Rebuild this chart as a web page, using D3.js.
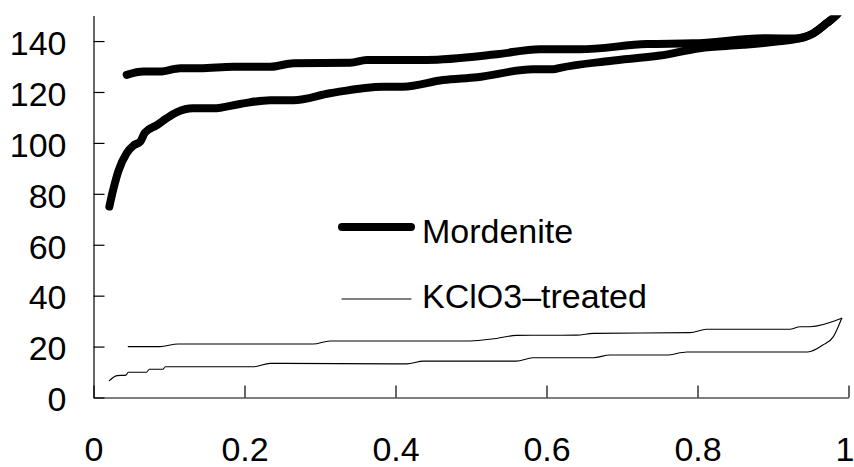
<!DOCTYPE html>
<html>
<head>
<meta charset="utf-8">
<script src="https://cdn.jsdelivr.net/npm/d3@7"></script>
<style>
  body { margin: 0; background: #fff; }
  svg { display: block; }
  .axis text { font-family: "Liberation Sans", Arial, sans-serif; font-size: 34px; fill: #000; }
  .axis path, .axis line { stroke: #000; stroke-width: 1.2; }
  .legend text { font-family: "Liberation Sans", Arial, sans-serif; font-size: 34px; fill: #000; }
</style>
</head>
<body>
<svg id="chart"></svg>
<script>
// relative pressure P/P0 vs adsorbed volume
const mordeniteAds = [
  [0.021, 75], [0.026, 81.5], [0.033, 89], [0.044, 96], [0.053, 99], [0.062, 100.5],
  [0.068, 104], [0.084, 107], [0.097, 109.7], [0.110, 112], [0.132, 113.6], [0.159, 113.6],
  [0.194, 115.3], [0.234, 116.8], [0.265, 116.8], [0.313, 119.5], [0.384, 122.1], [0.410, 122.1],
  [0.463, 124.7], [0.508, 125.8], [0.582, 128.9], [0.609, 128.9], [0.618, 129.5], [0.684, 132.2],
  [0.750, 134.3], [0.803, 137.2], [0.860, 138.5], [0.905, 139.8], [0.930, 140.8], [0.953, 143],
  [0.971, 147], [0.984, 150.2], [0.992, 153],
];
const mordeniteDes = [
  [0.044, 126.7], [0.066, 128], [0.088, 128], [0.115, 129.3], [0.141, 129.3], [0.185, 129.9],
  [0.234, 129.9], [0.265, 131.3], [0.340, 131.5], [0.362, 132.6], [0.441, 132.6], [0.534, 134.8],
  [0.591, 136.8], [0.644, 136.8], [0.733, 138.8], [0.794, 139.1], [0.892, 141.1], [0.931, 141],
  [0.953, 143], [0.971, 147], [0.984, 150.2], [0.992, 153],
];
const kclo3Ads = [
  [0.021, 6.6], [0.031, 8.6], [0.043, 8.8], [0.046, 9.9], [0.070, 9.9], [0.074, 11.1],
  [0.092, 11.1], [0.095, 12.1], [0.212, 12.1], [0.234, 13.4], [0.415, 13.2], [0.437, 14.3],
  [0.560, 14.3], [0.582, 15.6], [0.662, 15.6], [0.684, 16.7], [0.759, 16.7], [0.786, 17.9],
  [0.946, 17.9], [0.966, 20.6], [0.980, 23.9], [0.991, 31.1],
];
const kclo3Des = [
  [0.046, 20], [0.088, 20], [0.112, 21], [0.291, 21], [0.313, 22.2], [0.490, 22.2],
  [0.534, 23.2], [0.560, 24.4], [0.640, 24.5], [0.662, 25.2], [0.790, 25.5], [0.812, 26.8],
  [0.922, 26.8], [0.936, 27.8], [0.949, 27.8], [0.991, 31.1],
];
const xTicks = [0, 0.2, 0.4, 0.6, 0.8, 1];
const yTicks = [0, 20, 40, 60, 80, 100, 120, 140];
const legendLabels = ['Mordenite', 'KClO3\u2013treated'];

const width = 854;
const height = 467;
const margin = { top: 15.6, right: 5.5, bottom: 69.5, left: 93.5 };
const innerW = width - margin.left - margin.right;
const innerH = height - margin.top - margin.bottom;

const svg = d3.select('#chart').attr('width', width).attr('height', height);
const g = svg.append('g').attr('transform', `translate(${margin.left},${margin.top})`);

const x = d3.scaleLinear().domain([0, 1]).range([0, innerW]);
const y = d3.scaleLinear().domain([0, 150]).range([innerH, 0]);

// axes with inward ticks
g.append('g')
  .attr('class', 'axis x-axis')
  .attr('transform', `translate(0,${innerH})`)
  .call(d3.axisBottom(x).tickValues(xTicks).tickFormat(d3.format('~g'))
    .tickSizeInner(-12).tickSizeOuter(0).tickPadding(39))
  // last label sits on the page edge, nudge it in a little
  .call((a) => a.selectAll('.tick text').filter((d) => d === 1).attr('dx', -4));

g.append('g')
  .attr('class', 'axis y-axis')
  .call(d3.axisLeft(y).tickValues(yTicks).tickSizeInner(-11).tickSizeOuter(0).tickPadding(27))
  .call((a) => a.selectAll('text').attr('dy', '0.39em'));

g.selectAll('.axis .domain').attr('stroke', '#000');

g.append('clipPath').attr('id', 'plot-clip')
  .append('rect').attr('x', -10).attr('y', 0).attr('width', innerW + 20).attr('height', innerH + 10);

const line = d3.line()
  .x((d) => x(d[0]))
  .y((d) => y(d[1]))
  .curve(d3.curveMonotoneX);

const series = [
  { data: mordeniteAds, w: 8 },
  { data: mordeniteDes, w: 8 },
  { data: kclo3Ads, w: 1.1 },
  { data: kclo3Des, w: 1.1 },
];

g.append('g').attr('clip-path', 'url(#plot-clip)')
  .selectAll('path')
  .data(series)
  .join('path')
  .attr('d', (d) => line(d.data))
  .attr('fill', 'none')
  .attr('stroke', '#000')
  .attr('stroke-width', (d) => d.w)
  .attr('stroke-linecap', 'round')
  .attr('stroke-linejoin', 'round');

// legend
const legend = svg.append('g').attr('class', 'legend');
const legendItems = [
  { label: legendLabels[0], w: 8, y: 227, ty: 243 },
  { label: legendLabels[1], w: 1.1, y: 299, ty: 308 },
];
legendItems.forEach((d) => {
  legend.append('line')
    .attr('x1', 342).attr('x2', 411).attr('y1', d.y).attr('y2', d.y)
    .attr('stroke', '#000').attr('stroke-width', d.w).attr('stroke-linecap', 'round');
  legend.append('text').attr('x', 422).attr('y', d.ty).text(d.label);
});
</script>
</body>
</html>
